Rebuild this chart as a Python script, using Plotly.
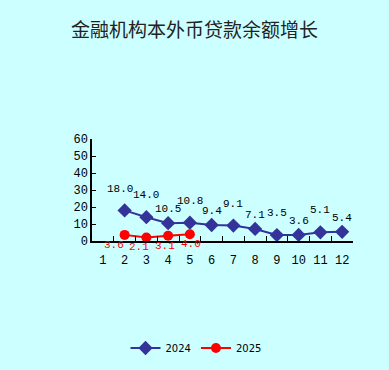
import plotly.graph_objects as go

months = [str(m) for m in range(1, 13)]
months_2024 = [str(m) for m in range(2, 13)]
values_2024 = [18.0, 14.0, 10.5, 10.8, 9.4, 9.1, 7.1, 3.5, 3.6, 5.1, 5.4]
months_2025 = ["2", "3", "4", "5"]
values_2025 = [3.6, 2.1, 3.1, 4.0]
y_ticks = [0, 10, 20, 30, 40, 50, 60]

BG = "#CCFFFF"
BLUE = "#333399"
RED = "#FF0000"
NUM_FONT = "Liberation Mono, DejaVu Sans Mono, monospace"

fig = go.Figure()
fig.add_trace(go.Scatter(
    x=months_2024, y=values_2024, name="2024", mode="lines+markers",
    line=dict(color=BLUE, width=2),
    marker=dict(symbol="diamond", size=11, color=BLUE),
))
fig.add_trace(go.Scatter(
    x=months_2025, y=values_2025, name="2025", mode="lines+markers",
    line=dict(color=RED, width=2),
    marker=dict(symbol="circle", size=10, color=RED),
))

# value labels (category index used so annotations land on the right month)
for i, (m, v) in enumerate(zip(months_2024, values_2024)):
    lift = 22 if i % 2 else 14
    if i == 0:
        lift = 21
    fig.add_annotation(x=months.index(m), y=v, text=f"{v:.1f}", showarrow=False,
                       yshift=lift, xshift=-5 if i == 0 else 0, borderpad=0,
                       font=dict(family=NUM_FONT, size=11, color="black"))
for j, (m, v) in enumerate(zip(months_2025, values_2025)):
    fig.add_annotation(x=months.index(m), y=v, text=f"{v:.1f}", showarrow=False,
                       yshift=-10, xshift=-11 + 4 * j, borderpad=0,
                       font=dict(family=NUM_FONT, size=11, color=RED))

fig.update_layout(
    width=389, height=370,
    paper_bgcolor=BG, plot_bgcolor=BG,
    margin=dict(l=92, r=36, t=139, b=129, autoexpand=False),
    title=dict(text="金融机构本外币贷款余额增长", x=0.5, xanchor="center",
               y=1 - 30 / 370, yanchor="middle",
               font=dict(family="Noto Sans CJK SC", size=19, color="#222222")),
    showlegend=True,
    legend=dict(orientation="h", xref="container", yref="container",
                x=196 / 389, xanchor="center", y=1 - 348 / 370, yanchor="middle",
                bgcolor="rgba(0,0,0,0)",
                font=dict(family="DejaVu Sans", size=10, color="black"),
                itemwidth=30),
    xaxis=dict(type="category", categoryorder="array", categoryarray=months,
               range=[-0.5, 11.5], tickson="boundaries", tickangle=0,
               ticks="inside", ticklen=5, tickcolor="black",
               ticklabelstandoff=7,
               showline=True, linecolor="black", linewidth=1.5,
               showgrid=False, zeroline=False,
               tickfont=dict(family=NUM_FONT, size=12, color="black")),
    yaxis=dict(range=[0, 60], tickvals=y_ticks, ticks="inside", ticklen=4,
               tickcolor="black", showline=True, linecolor="black", linewidth=1.5,
               showgrid=False, zeroline=False,
               tickfont=dict(family=NUM_FONT, size=12, color="black")),
)

fig.write_html("out.html", config={"displayModeBar": False},
               post_script="document.body.style.margin='0';")
